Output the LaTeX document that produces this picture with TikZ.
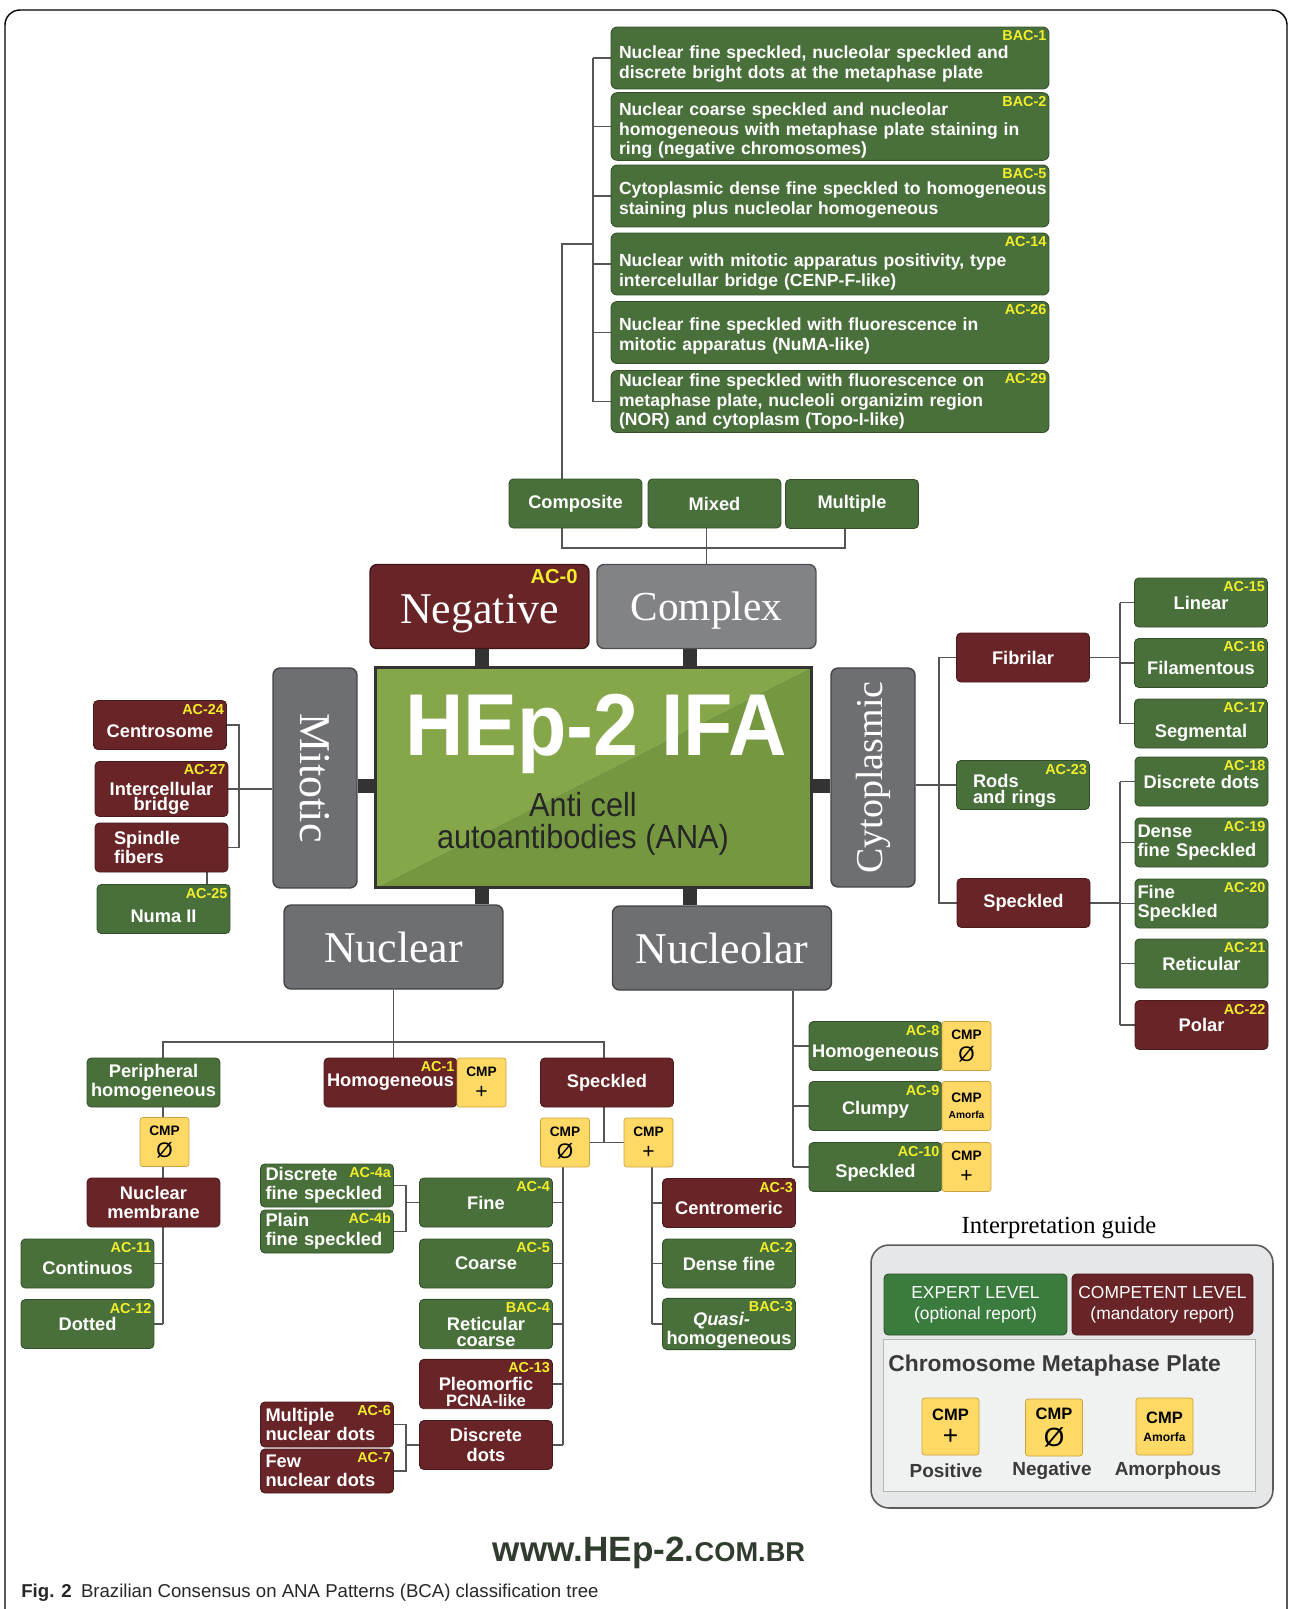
\documentclass[tikz,border=0pt]{standalone}
\usepackage{fontspec}
\usepackage{graphicx}
\setmainfont{Liberation Sans}
\newfontfamily\serifface{Liberation Serif}
\newfontfamily\narrowface[FakeStretch=0.92]{Liberation Sans}
\usetikzlibrary{calc,backgrounds}
\definecolor{ExpGreen}{HTML}{49703A}
\definecolor{CompRed}{HTML}{682427}
\definecolor{BoxGray}{HTML}{6E6F73}
\definecolor{LightGray}{HTML}{828386}
\definecolor{CmpYellow}{HTML}{FFD966}
\definecolor{CmpEdge}{HTML}{C9A43E}
\definecolor{TagYellow}{HTML}{F3EE2C}
\definecolor{LinkGray}{HTML}{555555}
\definecolor{BarDark}{HTML}{333333}
\definecolor{MainLight}{HTML}{85A749}
\definecolor{MainDark}{HTML}{749740}
\definecolor{SubDark}{HTML}{262626}
\definecolor{GuideFill}{HTML}{E6E7E8}
\definecolor{GuideEdge}{HTML}{5A5A5A}
\definecolor{GuideGreen}{HTML}{3A7B3E}
\definecolor{PlateText}{HTML}{3A3A3A}
\definecolor{WebGreen}{HTML}{2F3C2E}

\newcommand{\bxfont}{\fontsize{10.4}{11}\selectfont\bfseries}
\newcommand{\tpfont}{\fontsize{10}{11.3}\selectfont\bfseries}
\newcommand{\tgfont}{\fontsize{8.2}{8.2}\selectfont\bfseries}
\newcommand{\bgfont}{\serifface\fontsize{25}{25}\selectfont}
\newcommand{\cmpfont}{\fontsize{7.8}{9.2}\selectfont\bfseries}
\newcommand{\cmpsym}[1]{{\fontsize{12}{9.2}\selectfont\mdseries #1}}
\newcommand{\dn}[1]{\rule{0pt}{#1}}

\begin{document}
\begin{tikzpicture}[x=0.02cm, y=-0.02cm,
    base/.style={rounded corners=2.5pt, minimum width=2.66cm, minimum height=0.98cm,
                 align=center, font=\bxfont, text=white, inner sep=1pt, line width=0.5pt},
    gbox/.style={base, fill=ExpGreen, draw=ExpGreen!70!black},
    rbox/.style={base, fill=CompRed, draw=CompRed!70!black},
    lbox/.style={align=left, text width=#1},
    tight/.style={font=\fontsize{10.4}{9}\selectfont\bfseries},
    low/.style={execute at begin node={\rule{0pt}{#1}}},
    longbox/.style={minimum width=8.76cm, minimum height=1.24cm, text width=8.44cm,
                    align=left, inner xsep=0.16cm, font=\tpfont, rounded corners=3.5pt},
    bigbox/.style={rounded corners=4pt, minimum width=4.38cm, minimum height=1.68cm,
                   font=\bgfont, text=white, line width=0.8pt},
    partbox/.style={bigbox, fill=BoxGray, draw=BoxGray!60!black},
    cmp/.style={fill=CmpYellow, draw=CmpEdge, rounded corners=1.5pt, minimum width=0.98cm,
                minimum height=0.98cm, inner sep=0pt, align=center, font=\cmpfont, text=black},
    bigcmp/.style={cmp, minimum width=1.14cm, minimum height=1.14cm,
                   font=\fontsize{9.4}{12}\selectfont\bfseries},
    tag/.style={anchor=north east, inner xsep=1.5pt, inner ysep=2pt, font=\tgfont, text=TagYellow},
    link/.style={draw=LinkGray, line width=0.9pt},
    bar/.style={draw=BarDark, line width=8.5pt},
  ]
  \useasboundingbox (0,0) rectangle (1290,1609);
  \draw[line width=0.8pt, rounded corners=0.3cm] (5,1609) -- (5,10) -- (1287,10) -- (1287,1609);

  % Complex: composite examples
  \node[gbox,longbox,low=14.1pt] (bac1) at (830,58) {Nuclear fine speckled, nucleolar speckled and\\discrete bright dots at the metaphase plate};
  \node[gbox,longbox,low=11.8pt] (bac2) at (830,126.5) {Nuclear coarse speckled and nucleolar\\homogeneous with metaphase plate staining in\\ring (negative chromosomes)};
  \node[gbox,longbox,low=11.8pt] (bac5) at (830,196) {\mbox{Cytoplasmic dense fine speckled to homogeneous}\\staining plus nucleolar homogeneous};
  \node[gbox,longbox,low=16.4pt] (ac14) at (830,264) {Nuclear with mitotic apparatus positivity, type\\intercelullar bridge (CENP-F-like)};
  \node[gbox,longbox,low=10.7pt] (ac26) at (830,332.5) {Nuclear fine speckled with fluorescence in\\mitotic apparatus (NuMA-like)};
  \node[gbox,longbox] (ac29) at (830,401.5) {Nuclear fine speckled with fluorescence on\\metaphase plate, nucleoli organizim region\\(NOR) and cytoplasm (Topo-I-like)};

  \node[gbox] (composite) at (575.5,503.5) {Composite};
  \node[gbox] (mixed)     at (714.5,503.5) {Mixed};
  \node[gbox] (multiple)  at (852,504)     {Multiple};

  % Centro
  \node[bigbox, fill=CompRed, draw=CompRed!60!black, low=25pt] (negative) at (479.5,606.5) {Negative};
  \node[tag, font=\fontsize{11.5}{11.5}\selectfont\bfseries] (t-neg) at ($(negative.north east)+(-9,2)$) {AC-0};
  \node[bigbox, fill=LightGray, draw=LightGray!60!black, low=21pt,
        font=\serifface\fontsize{23.5}{23.5}\selectfont] (complex) at (706.5,606.5) {Complex};

  \node[minimum width=8.74cm, minimum height=4.42cm, inner sep=0pt, outer sep=0pt] (main) at (593.5,777.5) {};
  \fill[MainLight] (main.north west) -- (main.north east) -- (main.south west) -- cycle;
  \fill[MainDark] (main.north east) -- (main.south east) -- (main.south west) -- cycle;
  \draw[BarDark, line width=1.7pt] (main.north west) rectangle (main.south east);
  \node[font=\narrowface\fontsize{50}{50}\selectfont\bfseries, text=white] (hep) at (596,734) {HEp-2 IFA};
  \node[font=\narrowface\fontsize{19}{18}\selectfont, text=SubDark, align=center] (ana) at (583,824) {Anti cell\\autoantibodies (ANA)};

  \node[partbox, minimum width=1.68cm, minimum height=4.40cm] (mitotic) at (315,778) {\rotatebox{-90}{Mitotic}};
  \node[partbox, minimum width=1.68cm, minimum height=4.38cm, font=\serifface\fontsize{21.6}{21.6}\selectfont] (cyto) at (873,777.5) {\rotatebox{90}{Cytoplasmic}};
  \node[partbox] (nuclear)   at (393.5,947) {Nuclear};
  \node[partbox] (nucleolar) at (722,948)   {Nucleolar};

  % Mitotic
  \node[rbox, low=14.4pt] (centrosome) at (160,725) {Centrosome};
  \node[rbox, font=\fontsize{10.4}{7.6}\selectfont\bfseries] (interbridge) at (161.5,789) {\dn{18.5pt}Intercellular\\bridge};
  \node[rbox, lbox=1.9cm] (spindle) at (161.5,847.5) {Spindle\\fibers};
  \node[gbox, low=15.6pt] (numa) at (163.5,909) {Numa II};

  % Cytoplasmic
  \node[rbox] (fibrilar) at (1023,657.5) {Fibrilar};
  \node[gbox, lbox=2.0cm, tight, low=14.4pt] (rods) at (1023,785) {Rods\\and rings};
  \node[rbox] (cspeck) at (1023.5,903) {Speckled};
  \node[gbox] (linear)    at (1201,602.5) {Linear};
  \node[gbox, low=13.2pt] (filament)  at (1201,663)   {Filamentous};
  \node[gbox, low=17.8pt] (segmental) at (1201,723.5) {Segmental};
  \node[gbox] (cdots)  at (1201.5,781.5) {Discrete dots};
  \node[gbox, lbox=2.56cm] (cdense) at (1201.5,842.5) {Dense\\fine Speckled};
  \node[gbox, lbox=2.56cm] (cfine)  at (1201.5,903.5) {Fine\\Speckled};
  \node[gbox] (creti)  at (1201.5,963.5) {Reticular};
  \node[rbox] (polar)  at (1201.5,1025)  {Polar};

  % Nucleolar
  \node[gbox, low=15.6pt] (nohom)   at (875.5,1046) {Homogeneous};
  \node[gbox, low=12.1pt] (clumpy)  at (875.5,1106) {Clumpy};
  \node[gbox, low=14.4pt] (nospeck) at (875.5,1167) {Speckled};
  \node[cmp] (ncmp1) at (966.5,1046) {CMP\\[3.3pt]\cmpsym{Ø}};
  \node[cmp] (ncmp2) at (966.5,1106) {CMP\\{\fontsize{5.8}{9.2}\selectfont Amorfa}};
  \node[cmp] (ncmp3) at (966.5,1167) {CMP\\[3.3pt]\cmpsym{+}};

  % Nuclear
  \node[gbox, tight] (periph) at (153.5,1082.5) {Peripheral\\homogeneous};
  \node[cmp] (pcmp) at (164.5,1142) {CMP\\[3.3pt]\cmpsym{Ø}};
  \node[rbox] (membrane) at (153.5,1202.5) {Nuclear\\membrane};
  \node[gbox, low=12.1pt] (continuos) at (87.5,1263.5) {Continuos};
  \node[gbox] (dotted)    at (87.5,1324)   {Dotted};

  \node[rbox] (hom) at (390.5,1082.5) {Homogeneous};
  \node[cmp] (hcmp) at (481.5,1082.5) {CMP\\[3.3pt]\cmpsym{+}};

  \node[rbox] (nspeck) at (607,1082.5) {Speckled};
  \node[cmp] (scmp0) at (565,1142.5)   {CMP\\[3.3pt]\cmpsym{Ø}};
  \node[cmp] (scmpp) at (648.5,1142.5) {CMP\\[3.3pt]\cmpsym{+}};

  \node[gbox] (fine)   at (486,1202.5) {Fine};
  \node[gbox] (coarse) at (486,1263.5) {Coarse};
  \node[gbox, tight] (reticoarse) at (486,1324) {\dn{17pt}Reticular\\coarse};
  \node[rbox, tight] (pleo) at (486,1384) {\dn{17pt}Pleomorfic\\{\fontsize{9.4}{9}\selectfont PCNA-like}};
  \node[rbox] (ddots)  at (486,1445) {Discrete\\dots};

  \node[gbox, lbox=2.46cm, minimum height=0.86cm] (dfs) at (327,1185.5) {Discrete\\fine speckled};
  \node[gbox, lbox=2.46cm, minimum height=0.86cm] (pfs) at (327,1231.5) {Plain\\fine speckled};
  \node[rbox, lbox=2.46cm, minimum height=0.90cm] (mnd) at (327,1424.5) {Multiple\\nuclear dots};
  \node[rbox, lbox=2.46cm, minimum height=0.88cm] (fnd) at (327,1471)   {Few\\nuclear dots};

  \node[rbox, low=13.3pt] (centro)    at (729,1203)   {Centromeric};
  \node[gbox] (densefine) at (729,1263.5) {Dense fine};
  \node[gbox, tight] (quasi) at (729,1324) {\dn{14.4pt}\textit{Quasi-}\hspace*{0.3cm}\\homogeneous};

  % Codigos AC
  \foreach \n/\t in {bac1/BAC-1, bac2/BAC-2, bac5/BAC-5, ac14/AC-14, ac26/AC-26, ac29/AC-29,
      centrosome/AC-24, interbridge/AC-27, numa/AC-25, linear/AC-15, filament/AC-16,
      segmental/AC-17, rods/AC-23, cdots/AC-18, cdense/AC-19, cfine/AC-20, creti/AC-21,
      polar/AC-22, nohom/AC-8, clumpy/AC-9, nospeck/AC-10, hom/AC-1, continuos/AC-11,
      dotted/AC-12, dfs/AC-4a, pfs/AC-4b, fine/AC-4, coarse/AC-5, reticoarse/BAC-4,
      pleo/AC-13, mnd/AC-6, fnd/AC-7, centro/AC-3, densefine/AC-2, quasi/BAC-3}
    \node[tag] (t-\n) at (\n.north east) {\t};

  % Guia de interpretacao
  \node[font=\serifface\fontsize{14}{14}\selectfont] (guidetitle) at (1059,1228) {Interpretation guide};
  \node[draw=GuideEdge, fill=GuideFill, rounded corners=0.36cm, line width=0.9pt,
        minimum width=8.04cm, minimum height=5.26cm] (guide) at (1072,1376.5) {};
  \node[gbox, fill=GuideGreen, minimum width=3.66cm, minimum height=1.22cm,
        font=\fontsize{9.9}{12}\selectfont] (expert) at (975.5,1304.5) {EXPERT LEVEL\\(optional report)};
  \node[rbox, minimum width=3.62cm, minimum height=1.22cm,
        font=\fontsize{9.9}{12}\selectfont] (competent) at (1162.5,1304.5) {COMPETENT LEVEL\\(mandatory report)};
  \node[draw=GuideEdge!45, fill=GuideFill!60!white, line width=0.5pt,
        minimum width=7.44cm, minimum height=3.04cm] (plate) at (1069,1415) {};
  \node[anchor=west, inner sep=0pt, font=\fontsize{13}{13}\selectfont\bfseries, text=PlateText] (platetitle) at (888,1366) {Chromosome Metaphase Plate};
  \node[bigcmp] (lp) at (950.5,1426.5) {CMP\\[1.6pt]{\fontsize{15}{12}\selectfont\mdseries +}};
  \node[bigcmp] (ln) at (1054,1427.5)  {CMP\\[3pt]{\fontsize{15}{12}\selectfont\mdseries Ø}};
  \node[bigcmp] (la) at (1164.5,1426.5) {CMP\\[-2pt]{\fontsize{6.9}{12}\selectfont Amorfa}};
  \node[font=\fontsize{10.8}{10.8}\selectfont\bfseries, text=PlateText] (lpt) at (946,1471)  {Positive};
  \node[font=\fontsize{10.8}{10.8}\selectfont\bfseries, text=PlateText] (lnt) at (1052,1471) {Negative};
  \node[font=\fontsize{10.8}{10.8}\selectfont\bfseries, text=PlateText] (lat) at (1168,1471) {Amorphous};

  % Rodape
  \node[font=\fontsize{20}{20}\selectfont\bfseries, text=WebGreen] (web) at (649,1553) {www.HEp-2.{\fontsize{15.5}{15.5}\selectfont COM.BR}};
  \node[anchor=west, inner sep=0pt, font=\fontsize{10.6}{10.6}\selectfont, text=black!85] (caption) at (21,1593) {\textbf{Fig. 2}\enspace Brazilian Consensus on ANA Patterns (BCA) classification tree};

  % Ligacoes
  \begin{scope}[on background layer]
    \coordinate (tb) at (593,244);
    \coordinate (cx) at (562,0);
    \coordinate (mx) at (845,0);
    \coordinate (cy) at (0,548);
    \draw[link] (cx |- composite.north) |- (tb);
    \draw[link] (tb |- bac1.west) -- (tb |- ac29.west);
    \foreach \b in {bac1,bac2,bac5,ac14,ac26,ac29}
      \draw[link] (tb |- \b.west) -- (\b.west);
    \draw[link] (cx |- composite.south) -- (cx |- cy) -- (mx |- cy) -- (mx |- multiple.south);
    \draw[link] (complex.north) -- (complex.north |- mixed.south);

    \coordinate (bl) at (482,0);
    \coordinate (br) at (690,0);
    \coordinate (bm) at (0,786);
    \draw[bar] (bl |- negative.south) -- (bl |- main.north);
    \draw[bar] (br |- complex.south) -- (br |- main.north);
    \draw[bar] (bl |- main.south) -- (bl |- nuclear.north);
    \draw[bar] (br |- main.south) -- (br |- nucleolar.north);
    \draw[bar] (bm -| mitotic.east) -- (bm -| main.west);
    \draw[bar] (bm -| main.east) -- (bm -| cyto.west);

    % mitotico
    \coordinate (mb) at (239,0);
    \coordinate (sn) at (207,0);
    \draw[link] (centrosome.east) -- (mb |- centrosome.east) -- (mb |- spindle.east) -- (spindle.east);
    \draw[link] (mitotic.west |- interbridge.east) -- (interbridge.east);
    \draw[link] (sn |- spindle.south) -- (sn |- numa.north);

    % citoplasmatico
    \coordinate (cb) at (939,0);
    \coordinate (kb) at (1120,0);
    \draw[link] (fibrilar.west) -- (cb |- fibrilar.west) -- (cb |- cspeck.west) -- (cspeck.west);
    \draw[link] (cyto.east |- rods.west) -- (rods.west);
    \draw[link] (fibrilar.east) -- (kb |- fibrilar.east);
    \draw[link] (kb |- linear.west) -- (kb |- segmental.west);
    \draw[link] (cspeck.east) -- (kb |- cspeck.east);
    \draw[link] (kb |- cdots.west) -- (kb |- polar.west);
    \foreach \b in {linear,filament,segmental,cdots,cdense,cfine,creti,polar}
      \draw[link] (kb |- \b.west) -- (\b.west);

    % nucleolar
    \coordinate (nb) at (793,0);
    \draw[link] (nb |- nucleolar.south) -- (nb |- nospeck.west);
    \foreach \b in {nohom,clumpy,nospeck}
      \draw[link] (nb |- \b.west) -- (\b.west);

    % nuclear
    \coordinate (px) at (163,1042);
    \coordinate (sx) at (604,1042);
    \draw[link] (nuclear.south) -- (nuclear.south |- hom.north);
    \draw[link] (px |- periph.north) -- (px) -- (sx) -- (sx |- nspeck.north);
    \draw[link] (px |- periph.south) -- (px |- dotted.east);
    \draw[link] (continuos.east) -- (px |- continuos.east);
    \draw[link] (dotted.east) -- (px |- dotted.east);

    \draw[link] (sx |- nspeck.south) -- (sx |- scmp0.east);
    \draw[link] (scmp0.east) -- (scmpp.west);
    \coordinate (s0) at (563,0);
    \coordinate (sp) at (652,0);
    \draw[link] (s0 |- scmp0.south) -- (s0 |- ddots.east);
    \foreach \b in {fine,coarse,reticoarse,pleo,ddots}
      \draw[link] (\b.east) -- (s0 |- \b.east);
    \draw[link] (sp |- scmpp.south) -- (sp |- quasi.west);
    \foreach \b in {centro,densefine,quasi}
      \draw[link] (sp |- \b.west) -- (\b.west);

    \coordinate (fb) at (406,0);
    \draw[link] (dfs.east) -- (fb |- dfs.east) -- (fb |- pfs.east) -- (pfs.east);
    \draw[link] (fb |- fine.west) -- (fine.west);
    \draw[link] (mnd.east) -- (fb |- mnd.east) -- (fb |- fnd.east) -- (fnd.east);
    \draw[link] (fb |- ddots.west) -- (ddots.west);
  \end{scope}
\end{tikzpicture}
\end{document}
